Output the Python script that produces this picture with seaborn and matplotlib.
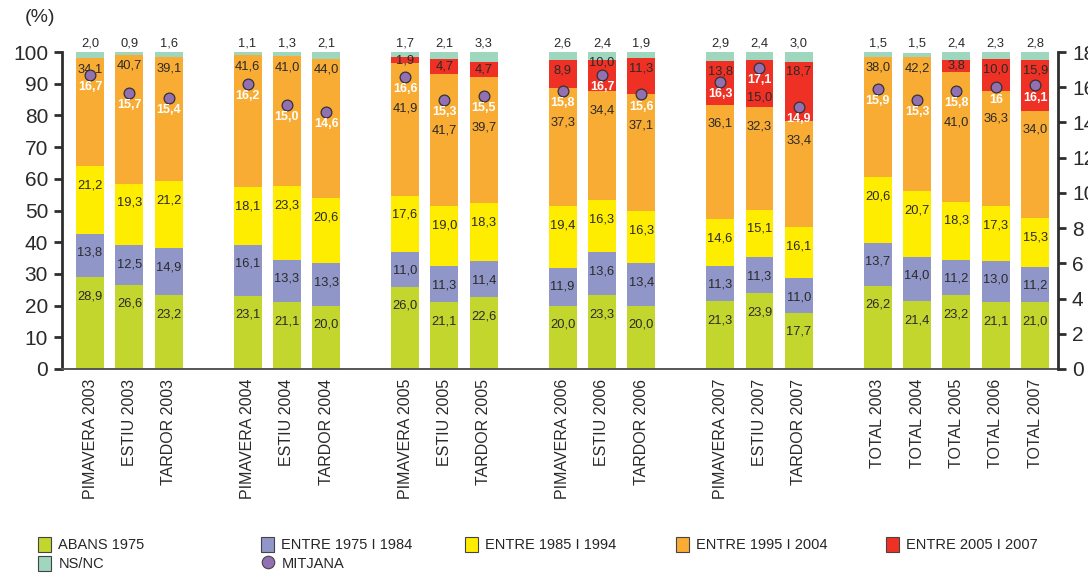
import numpy as np
import matplotlib
matplotlib.use("Agg")
import matplotlib.pyplot as plt
import seaborn as sns
from matplotlib.patches import Patch
from matplotlib.lines import Line2D

# ---- data -------------------------------------------------------------
periods = [
    "PIMAVERA 2003", "ESTIU 2003", "TARDOR 2003",
    "PIMAVERA 2004", "ESTIU 2004", "TARDOR 2004",
    "PIMAVERA 2005", "ESTIU 2005", "TARDOR 2005",
    "PIMAVERA 2006", "ESTIU 2006", "TARDOR 2006",
    "PIMAVERA 2007", "ESTIU 2007", "TARDOR 2007",
    "TOTAL 2003", "TOTAL 2004", "TOTAL 2005", "TOTAL 2006", "TOTAL 2007",
]
abans_1975 = [28.9, 26.6, 23.2, 23.1, 21.1, 20.0, 26.0, 21.1, 22.6, 20.0,
              23.3, 20.0, 21.3, 23.9, 17.7, 26.2, 21.4, 23.2, 21.1, 21.0]
entre_1975_1984 = [13.8, 12.5, 14.9, 16.1, 13.3, 13.3, 11.0, 11.3, 11.4, 11.9,
                   13.6, 13.4, 11.3, 11.3, 11.0, 13.7, 14.0, 11.2, 13.0, 11.2]
entre_1985_1994 = [21.2, 19.3, 21.2, 18.1, 23.3, 20.6, 17.6, 19.0, 18.3, 19.4,
                   16.3, 16.3, 14.6, 15.1, 16.1, 20.6, 20.7, 18.3, 17.3, 15.3]
entre_1995_2004 = [34.1, 40.7, 39.1, 41.6, 41.0, 44.0, 41.9, 41.7, 39.7, 37.3,
                   34.4, 37.1, 36.1, 32.3, 33.4, 38.0, 42.2, 41.0, 36.3, 34.0]
entre_2005_2007 = [0, 0, 0, 0, 0, 0, 1.9, 4.7, 4.7, 8.9,
                   10.0, 11.3, 13.8, 15.0, 18.7, 0, 0, 3.8, 10.0, 15.9]
ns_nc = [2.0, 0.9, 1.6, 1.1, 1.3, 2.1, 1.7, 2.1, 3.3, 2.6,
         2.4, 1.9, 2.9, 2.4, 3.0, 1.5, 1.5, 2.4, 2.3, 2.8]
mitjana_labels = ["16,7", "15,7", "15,4", "16,2", "15,0", "14,6", "16,6", "15,3",
                  "15,5", "15,8", "16,7", "15,6", "16,3", "17,1", "14,9", "15,9",
                  "15,3", "15,8", "16", "16,1"]
series_names = ["ABANS 1975", "ENTRE 1975 I 1984", "ENTRE 1985 I 1994",
                "ENTRE 1995 I 2004", "ENTRE 2005 I 2007", "NS/NC"]
mean_name = "MITJANA"
left_ticks = [0, 10, 20, 30, 40, 50, 60, 70, 80, 90, 100]
right_ticks = [0, 2, 4, 6, 8, 10, 12, 14, 16, 18]

# ---- styling ----------------------------------------------------------
colors = ["#C3D62E", "#9097C8", "#FFED00", "#F9AC33", "#EE3124", "#9ED6BE"]
mean_color = "#9370B2"
text_dark = "#2A2A2A"
axis_dark = "#2E2E2E"

sns.set_style("ticks")
plt.rcParams["font.family"] = ["Liberation Sans", "DejaVu Sans"]

layers = np.array([abans_1975, entre_1975_1984, entre_1985_1994,
                   entre_1995_2004, entre_2005_2007, ns_nc], dtype=float)
cum = layers.cumsum(axis=0)
means = np.array([float(s.replace(",", ".")) for s in mitjana_labels])
n = len(periods)
# three seasons per year, with an empty slot between the groups
pos = np.array([i + min(i // 3, 5) for i in range(n)], dtype=float)


def fmt(v):
    return f"{v:.1f}".replace(".", ",")


fig = plt.figure(figsize=(10.88, 5.77), dpi=100)
ax = fig.add_axes([62 / 1088, 1 - 369 / 577, (1058 - 62) / 1088, (369 - 52) / 577])

# stacked bars: draw cumulative totals from the top layer downwards
for k in range(len(series_names) - 1, -1, -1):
    keep = layers[k] > 0
    sns.barplot(x=pos[keep], y=cum[k][keep], native_scale=True, width=0.71,
                color=colors[k], saturation=1, errorbar=None, linewidth=0,
                ax=ax)

ax.set_xlim(-0.711, 24.58)
ax.set_ylim(0, 100)
ax.set_xticks(pos)
ax.set_xticklabels(periods, rotation=90, fontsize=11.5, color=text_dark)
ax.set_yticks(left_ticks)
ax.set_yticklabels([str(t) for t in left_ticks], fontsize=15, color=text_dark)
ax.tick_params(axis="x", length=0, pad=7)
ax.tick_params(axis="y", direction="out", length=6, width=2, color=axis_dark, pad=4)
ax.set_xlabel("")
ax.set_ylabel("")
for side in ["top", "right"]:
    ax.spines[side].set_visible(False)
ax.spines["left"].set_linewidth(2)
ax.spines["left"].set_color(axis_dark)
ax.spines["bottom"].set_linewidth(1.4)
ax.spines["bottom"].set_color("#555555")

# mean on the secondary axis
ax2 = ax.twinx()
sns.scatterplot(x=pos, y=means, ax=ax2, s=60, color=mean_color,
                edgecolor="#333333", linewidth=0.9, zorder=5, legend=False)
ax2.set_ylim(0, 18)
ax2.set_xlim(ax.get_xlim())
ax2.set_yticks(right_ticks)
ax2.set_yticklabels([str(t) for t in right_ticks], fontsize=15, color=text_dark)
ax2.tick_params(axis="y", direction="out", length=6, width=2, color=axis_dark, pad=4)
ax2.set_ylabel("")
for side in ["top", "left", "bottom"]:
    ax2.spines[side].set_visible(False)
ax2.spines["right"].set_linewidth(2)
ax2.spines["right"].set_color(axis_dark)

# value labels
lab_kw = dict(ha="center", va="center", fontsize=9.3, color=text_dark)
for i in range(n):
    x = pos[i]
    tops = cum[:, i]
    marker_pct = means[i] / 18 * 100
    mean_lab_pct = marker_pct - 3.9
    for k in range(3):
        ax.text(x, tops[k] - 6, fmt(layers[k, i]), **lab_kw)
    # 1995-2004 layer
    if layers[4, i] == 0:
        y_or = tops[3] - 3.5
    else:
        y_or = min(tops[3] - 6, mean_lab_pct - 6)
    ax.text(x, y_or, fmt(layers[3, i]), **lab_kw)
    # 2005-2007 layer
    if layers[4, i] > 0:
        center = tops[4] - layers[4, i] / 2
        y_red = max(center, tops[4] - 3.2)
        if abs(y_red - marker_pct) < 3:
            if tops[4] - marker_pct > 4:
                y_red = tops[4] - 0.9
            else:
                y_red = mean_lab_pct - 5.6
        ax.text(x, y_red, fmt(layers[4, i]), **lab_kw)
    # NS/NC above the bar
    ax.annotate(fmt(layers[5, i]), (x, 100), xytext=(0, 6.3),
                textcoords="offset points", ha="center", va="center",
                fontsize=9.3, color=text_dark, annotation_clip=False)
    # mean label
    ax2.text(x, mean_lab_pct * 0.18, mitjana_labels[i], ha="center", va="center",
             fontsize=9, fontweight="bold", color="white", zorder=6)

fig.text(25 / 1088, 1 - 18 / 577, "(%)", fontsize=14, color=text_dark,
         ha="left", va="center")

# legend, laid out in columns
def patch(c):
    return Patch(facecolor=c, edgecolor="#444444", linewidth=0.8)

mean_handle = Line2D([], [], marker="o", linestyle="none", markersize=9,
                     markerfacecolor=mean_color, markeredgecolor="#444444",
                     markeredgewidth=0.8)
columns = [
    ([patch(colors[0]), patch(colors[5])], [series_names[0], series_names[5]]),
    ([patch(colors[1]), mean_handle], [series_names[1], mean_name]),
    ([patch(colors[2])], [series_names[2]]),
    ([patch(colors[3])], [series_names[3]]),
    ([patch(colors[4])], [series_names[4]]),
]
col_x = [38, 261, 465, 676, 886]
for (hs, ls), cx in zip(columns, col_x):
    fig.legend(hs, ls, loc="upper left", bbox_to_anchor=(cx / 1088, 1 - 537 / 577),
               frameon=False, handlelength=0.9, handleheight=1.2,
               handletextpad=0.5, labelspacing=0.25, borderpad=0, borderaxespad=0,
               prop={"family": ["Liberation Sans"], "size": 10.5})

fig.savefig("out.png", dpi=100)
